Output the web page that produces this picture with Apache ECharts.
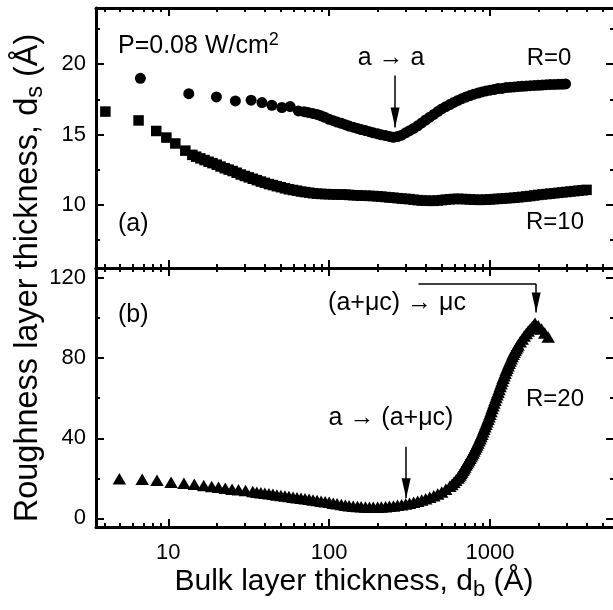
<!DOCTYPE html>
<html><head><meta charset="utf-8">
<script src="https://cdn.jsdelivr.net/npm/echarts@6/dist/echarts.min.js"></script>
<style>html,body{margin:0;padding:0;background:#fff}#c{width:613px;height:610px}</style>
</head><body><div id="c"></div>
<script>
const FONT = '"Liberation Sans", Arial, Helvetica, sans-serif';

// ---- axis ranges and tick values ----
const xRange = [3.55, 5900];
const topRange = [5.5, 24];
const botRange = [-4.3, 125];
const xMajorTicks = [10, 100, 1000];
const xMinorTicks = [4,5,6,7,8,9,20,30,40,50,60,70,80,90,200,300,400,500,600,700,800,900,2000,3000,4000,5000];
const topMajorTicks = [10, 15, 20];
const topMinorTicks = [7.5, 12.5, 17.5, 22.5];
const botMajorTicks = [0, 40, 80, 120];
const botMinorTicks = [20, 60, 100];

// ---- data: [bulk thickness d_b (Å), roughness d_s (Å)] ----
const r0 = [[6.7,19.0],[13.4,17.9],[19.9,17.67],[26.1,17.39],[32.7,17.44],[38.2,17.27],[44,17.08],[50.8,16.92],[57.2,16.99],[64.4,16.68],
[70,16.62],[74,16.57],[79,16.5],[84,16.43],[89,16.33],[94,16.22],[100,16.08],[106,15.98],[112,15.88],[119,15.8],[126,15.7],[133,15.6],
[141,15.52],[150,15.43],[158,15.35],[168,15.28],[178,15.2],[188,15.12],[200,15.05],[211,14.98],[224,14.92],[237,14.86],[251,14.8],
[266,14.85],[282,14.95],[299,15.12],[316,15.27],[335,15.43],[355,15.62],[376,15.82],[398,16.03],[422,16.23],[447,16.43],[473,16.63],
[501,16.82],[531,16.98],[562,17.13],[596,17.28],[631,17.42],[668,17.55],[708,17.66],[750,17.77],[794,17.87],[841,17.95],[891,18.03],
[944,18.1],[1000,18.15],[1059,18.2],[1122,18.27],[1189,18.28],[1259,18.34],[1334,18.36],[1413,18.38],[1496,18.41],[1585,18.43],
[1679,18.45],[1778,18.47],[1884,18.49],[1995,18.5],[2113,18.52],[2239,18.54],[2371,18.55],[2512,18.56],[2661,18.57],[2818,18.58],[2950,18.6]];

const r10 = [[4.06,16.63],[6.53,16.0],[8.41,15.25],[9.72,14.78],[11.05,14.36],[12.75,13.85],
[14.1,13.55],[14.9,13.42],[15.8,13.3],[16.8,13.18],[17.8,13.06],[18.8,12.96],[20,12.85],[21.1,12.72],[22.4,12.6],[23.7,12.5],
[25.1,12.4],[26.6,12.28],[28.2,12.15],[29.9,12.05],[31.6,11.95],[33.5,11.85],[35.5,11.75],[37.6,11.65],[39.8,11.56],[42.2,11.47],
[44.7,11.4],[47.3,11.32],[50.1,11.25],[53.1,11.17],[56.2,11.1],[59.6,11.05],[63.1,11.0],[66.8,10.94],[70.8,10.9],[75,10.86],
[79.4,10.82],[84.1,10.79],[89.1,10.77],[94.4,10.76],[100,10.75],[106,10.74],[112,10.73],[119,10.73],[126,10.72],[133,10.7],
[141,10.68],[150,10.67],[158,10.65],[168,10.64],[178,10.63],[188,10.62],[200,10.6],[211,10.58],[224,10.55],[237,10.52],[251,10.5],
[266,10.47],[282,10.44],[299,10.42],[316,10.4],[335,10.36],[355,10.33],[376,10.3],[398,10.29],[422,10.28],[447,10.28],[473,10.3],
[501,10.33],[531,10.36],[562,10.39],[596,10.41],[631,10.42],[668,10.41],[708,10.4],[750,10.38],[794,10.36],[841,10.35],[891,10.35],
[944,10.36],[1000,10.38],[1059,10.4],[1122,10.42],[1189,10.44],[1259,10.46],[1334,10.48],[1413,10.5],[1496,10.53],[1585,10.56],
[1679,10.59],[1778,10.62],[1884,10.66],[1995,10.7],[2113,10.73],[2239,10.76],[2371,10.79],[2512,10.82],[2661,10.85],[2818,10.88],
[2985,10.91],[3162,10.94],[3350,10.97],[3548,11.0],[3758,11.03],[3981,11.06]];

const r20 = [[4.96,19.8],[6.88,19.6],[8.5,19.1],[10.4,18.1],[12.5,17.5],[14.5,17.0],[16.6,16.4],[18.6,15.9],[20.5,15.5],[22.6,15.0],
[24.9,14.6],[27.3,14.3],[30.2,13.9],[33.5,13.4],[35.5,13.1],[37.6,12.8],[39.8,12.55],[42.2,12.3],[44.7,12.0],[47.3,11.7],[50.1,11.4],
[53.1,11.15],[56.2,10.9],[59.6,10.6],[63.1,10.3],[66.8,10.05],[70.8,9.8],[75,9.5],[79.4,9.2],[84.1,8.9],[89.1,8.6],[94.4,8.3],[100,8.0],
[106,7.6],[112,7.25],[119,6.9],[126,6.6],[133,6.35],[141,6.1],[150,5.95],[158,5.8],[168,5.7],[178,5.6],[188,5.6],[200,5.6],[211,5.7],
[224,5.8],[237,6.0],[251,6.2],[266,6.5],[282,6.8],[299,7.2],[316,7.6],[335,8.1],[355,8.6],[376,9.2],[398,9.8],[422,10.5],[447,11.3],
[473,12.2],[501,13.2],[531,14.5],[562,16.0],[579,16.9],[596,18.0],[613,19.0],[631,20.2],[640,20.9],[649,21.6],[658,22.4],[668,23.2],
[678,24.0],[688,24.8],[698,25.7],[708,26.6],[718,27.4],[729,28.3],[739,29.1],[750,30.0],[761,30.9],[772,31.8],[783,32.7],[794,33.6],
[806,34.6],[818,35.6],[829,36.6],[841,37.6],[853,38.7],[866,39.8],[878,40.9],[891,42.0],[904,43.2],[917,44.5],[930,45.7],[944,47.0],
[958,48.2],[972,49.5],[986,50.7],[1000,52.0],[1014,53.4],[1029,54.8],[1044,56.2],[1059,57.6],[1074,59.0],[1090,60.4],[1106,61.7],
[1122,63.0],[1138,64.4],[1155,65.8],[1172,67.2],[1189,68.6],[1206,69.9],[1223,71.2],[1241,72.5],[1259,73.8],[1277,75.0],[1296,76.2],
[1315,77.4],[1334,78.6],[1353,79.7],[1373,80.8],[1393,81.9],[1413,83.0],[1433,83.9],[1454,84.8],[1475,85.7],[1496,86.6],[1540,88.2],
[1585,89.6],[1631,91.0],[1679,92.3],[1728,93.6],[1778,94.7],[1830,95.8],[1884,96.8],[1905,97.4],[1995,96.2],[2090,94.6],[2190,92.6],[2300,90.6]];

// ---- annotation arrows (data coordinates) ----
const arrowAA = [[257, 19.2], [257, 15.5]];
const arrowAtoAMuc = [[301, 35.8], [301, 10.0]];
const arrowAMucToMuc = [[359, 117], [1936, 117], [1936, 102.8]];

const chart = echarts.init(document.getElementById('c'), null, {renderer: 'canvas'});

const GRIDS = [
  {left: 96, right: -1, top: 8, height: 260, outerBoundsMode: 'none', containLabel: false},
  {left: 96, right: -1, top: 268, height: 259, outerBoundsMode: 'none', containLabel: false}
];

function mkAxis(kind, gridIndex, position, range, ticks, len, showLine, label) {
  const ax = {
    type: kind, gridIndex, position, min: range[0], max: range[1],
    axisLine: {show: showLine, onZero: false, lineStyle: {color: '#000', width: 3}},
    axisTick: {show: true, inside: true, length: len, customValues: ticks, lineStyle: {color: '#000', width: 2}},
    axisLabel: label ? label : {show: false},
    splitLine: {show: false},
    minorTick: {show: false},
    minorSplitLine: {show: false},
    axisPointer: {show: false},
    silent: true
  };
  if (kind === 'log') ax.logBase = 10;
  return ax;
}

const numFmt = v => String(v);
const xLabel = {show: true, customValues: xMajorTicks, formatter: numFmt, margin: 15,
  color: '#000', fontSize: 22, fontFamily: FONT};
const yLabel = vals => ({show: true, customValues: vals, formatter: numFmt, margin: 10,
  color: '#000', fontSize: 22, fontFamily: FONT});

const xAxes = [];
const yAxes = [];
[0, 1].forEach(g => {
  const yr = g === 0 ? topRange : botRange;
  const yMaj = g === 0 ? topMajorTicks : botMajorTicks;
  const yMin = g === 0 ? topMinorTicks : botMinorTicks;
  xAxes.push(mkAxis('log', g, 'bottom', xRange, xMajorTicks, 8, true, g === 1 ? xLabel : null));
  xAxes.push(mkAxis('log', g, 'bottom', xRange, xMinorTicks, 4, false, null));
  xAxes.push(mkAxis('log', g, 'top', xRange, xMajorTicks, 8, true, null));
  xAxes.push(mkAxis('log', g, 'top', xRange, xMinorTicks, 4, false, null));
  yAxes.push(mkAxis('value', g, 'left', yr, yMaj, 8, true, yLabel(yMaj)));
  yAxes.push(mkAxis('value', g, 'left', yr, yMin, 4, false, null));
  yAxes.push(mkAxis('value', g, 'right', yr, yMaj, 8, false, null));
  yAxes.push(mkAxis('value', g, 'right', yr, yMin, 4, false, null));
});

function arrowLines(pts) {
  const segs = [];
  for (let i = 0; i < pts.length - 1; i++) {
    const last = i === pts.length - 2;
    segs.push([{coord: pts[i], symbol: 'none'},
      last ? {coord: pts[i + 1], symbol: 'triangle', symbolSize: [9, 20], symbolOffset: [0, '50%']}
           : {coord: pts[i + 1], symbol: 'none'}]);
  }
  return segs;
}
function markLine(list) {
  return {silent: true, animation: false, symbol: ['none', 'none'], label: {show: false},
    emphasis: {disabled: true}, itemStyle: {color: '#000'},
    lineStyle: {color: '#000', width: 1.5, type: 'solid'},
    data: list.reduce((a, p) => a.concat(arrowLines(p)), [])};
}

const scatterBase = {type: 'scatter', itemStyle: {color: '#000', opacity: 1}, silent: true,
  emphasis: {disabled: true}, animation: false};

function txt(x, y, text, size, align, extra) {
  return Object.assign({type: 'text', x, y, silent: true,
    style: Object.assign({text, fontSize: size, fontFamily: FONT, fill: '#000',
      align: align, verticalAlign: 'middle', textAlign: align, textVerticalAlign: 'middle'}, extra || {})});
}
const subRich = size => ({sub: {fontSize: size, fontFamily: FONT, fill: '#000', verticalAlign: 'bottom'}});

chart.setOption({
  animation: false,
  backgroundColor: '#fff',
  grid: GRIDS,
  xAxis: xAxes,
  yAxis: yAxes,
  series: [
    Object.assign({}, scatterBase, {name: 'R=0', xAxisIndex: 0, yAxisIndex: 0, data: r0, symbol: 'circle', symbolSize: 11,
      markLine: markLine([arrowAA])}),
    Object.assign({}, scatterBase, {name: 'R=10', xAxisIndex: 0, yAxisIndex: 0, data: r10, symbol: 'rect', symbolSize: 10.5}),
    Object.assign({}, scatterBase, {name: 'R=20', xAxisIndex: 4, yAxisIndex: 4, data: r20, symbol: 'triangle', symbolSize: [13.5, 11.5],
      markLine: markLine([arrowAtoAMuc, arrowAMucToMuc])})
  ],
  graphic: [
    txt(118, 46, 'P=0.08 W/cm{sup|2}', 25, 'left', {lineHeight: 30,
      rich: {sup: {fontSize: 18, fontFamily: FONT, fill: '#000', verticalAlign: 'top'}}}),
    txt(118, 224, '(a)', 25, 'left'),
    txt(391, 58, 'a \u2192 a', 25, 'center'),
    txt(549, 58, 'R=0', 24, 'center'),
    txt(555, 222, 'R=10', 24, 'center'),
    txt(118, 315, '(b)', 25, 'left'),
    txt(397, 303, '(a+\u03bcc) \u2192 \u03bcc', 25, 'center'),
    txt(555, 399, 'R=20', 24, 'center'),
    txt(391, 418, 'a \u2192 (a+\u03bcc)', 25, 'center'),
    txt(354, 582, 'Bulk layer thickness, d{sub|b} (\u00c5)', 30, 'center', {lineHeight: 37, rich: subRich(22)}),
    Object.assign(txt(28, 278, 'Roughness layer thickness, d{sub|s} (\u00c5)', 32.5, 'center', {lineHeight: 39, rich: subRich(23.5)}),
      {rotation: Math.PI / 2})
  ]
});
</script></body></html>
